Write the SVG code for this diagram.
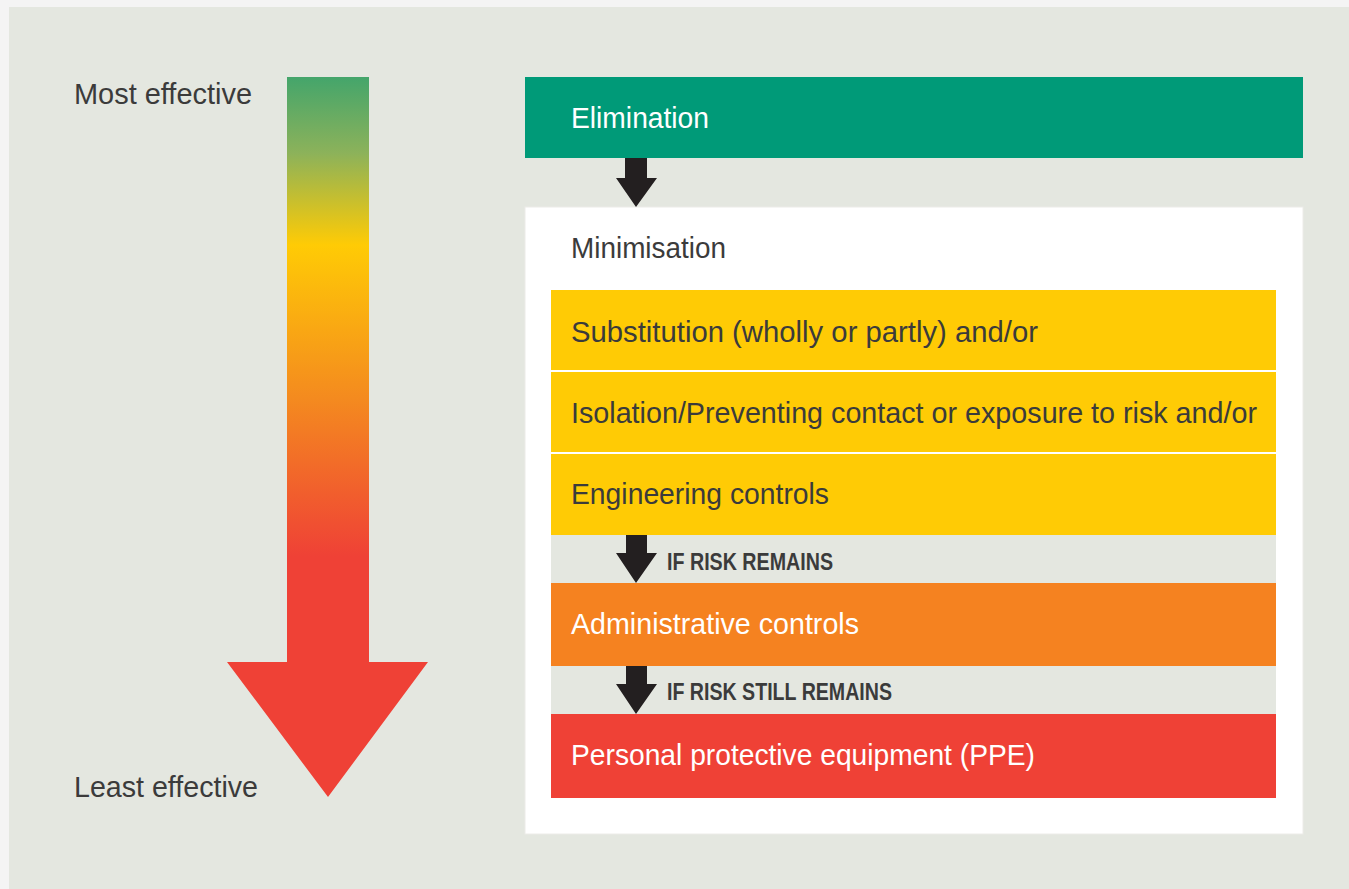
<svg xmlns="http://www.w3.org/2000/svg" width="1349" height="889" viewBox="0 0 1349 889">
<defs>
<linearGradient id="eff" gradientUnits="userSpaceOnUse" x1="0" y1="77" x2="0" y2="662">
<stop offset="0" stop-color="#44a56b"/>
<stop offset="0.13" stop-color="#8cb25a"/>
<stop offset="0.287" stop-color="#ffcb05"/>
<stop offset="0.55" stop-color="#f48a1f"/>
<stop offset="0.82" stop-color="#ef4136"/>
<stop offset="1" stop-color="#ef4136"/>
</linearGradient>
</defs>
<style>
.t{font-family:"Liberation Sans",Arial,sans-serif;font-size:30px}
.dark{fill:#3b3b3b}
.white{fill:#ffffff}
.lbl{font-family:"Liberation Sans",Arial,sans-serif;font-size:23px;font-weight:bold;fill:#3b3b3b}
.arr{fill:#231f20}
</style>
<rect x="0" y="0" width="1349" height="889" fill="#f4f4f4"/>
<rect x="9" y="7" width="1340" height="882" fill="#e4e7e0"/>

<g id="scale">
<path d="M287,77 H369 V662 H428 L328,797 L227,662 H287 Z" fill="url(#eff)"/>
<text class="t dark" x="74" y="104" font-size="31" textLength="178" lengthAdjust="spacingAndGlyphs">Most effective</text>
<text class="t dark" x="74" y="797" font-size="31" textLength="184" lengthAdjust="spacingAndGlyphs">Least effective</text>
</g>

<g id="elimination">
<rect x="525" y="77" width="778" height="81" fill="#009a78"/>
<text class="t white" x="571" y="128" textLength="138" lengthAdjust="spacingAndGlyphs">Elimination</text>
</g>

<g id="minimisation">
<rect x="525" y="207" width="778" height="627" fill="#ffffff" stroke="#ecece8" stroke-width="1"/>
<text class="t dark" x="571" y="258" textLength="155" lengthAdjust="spacingAndGlyphs">Minimisation</text>
<rect x="551" y="535" width="725" height="48" fill="#e4e7e0"/>
<rect x="551" y="666" width="725" height="48" fill="#e4e7e0"/>
</g>

<g id="substitution">
<rect x="551" y="290" width="725" height="80" fill="#ffcb05"/>
<text class="t dark" x="571" y="342" textLength="467" lengthAdjust="spacingAndGlyphs">Substitution (wholly or partly) and/or</text>
</g>

<g id="isolation">
<rect x="551" y="372" width="725" height="80" fill="#ffcb05"/>
<text class="t dark" x="571" y="423" textLength="686" lengthAdjust="spacingAndGlyphs">Isolation/Preventing contact or exposure to risk and/or</text>
</g>

<g id="engineering">
<rect x="551" y="454" width="725" height="81" fill="#ffcb05"/>
<text class="t dark" x="571" y="504" textLength="258" lengthAdjust="spacingAndGlyphs">Engineering controls</text>
</g>

<g id="administrative">
<rect x="551" y="583" width="725" height="83" fill="#f58220"/>
<text class="t white" x="571" y="634" textLength="288" lengthAdjust="spacingAndGlyphs">Administrative controls</text>
</g>

<g id="ppe">
<rect x="551" y="714" width="725" height="84" fill="#ef4136"/>
<text class="t white" x="571" y="765" textLength="464" lengthAdjust="spacingAndGlyphs">Personal protective equipment (PPE)</text>
</g>

<g id="connectors">
<path class="arr" d="M625,158 H647 V178 H657 L636,207 L616,178 H625 Z"/>
<path class="arr" d="M626,535 H647 V553 H657 L636,583 L616,553 H626 Z"/>
<text class="lbl" x="667" y="570" textLength="166" lengthAdjust="spacingAndGlyphs">IF RISK REMAINS</text>
<path class="arr" d="M626,666 H647 V684 H657 L636,714 L616,684 H626 Z"/>
<text class="lbl" x="667" y="700" textLength="225" lengthAdjust="spacingAndGlyphs">IF RISK STILL REMAINS</text>
</g>
</svg>
